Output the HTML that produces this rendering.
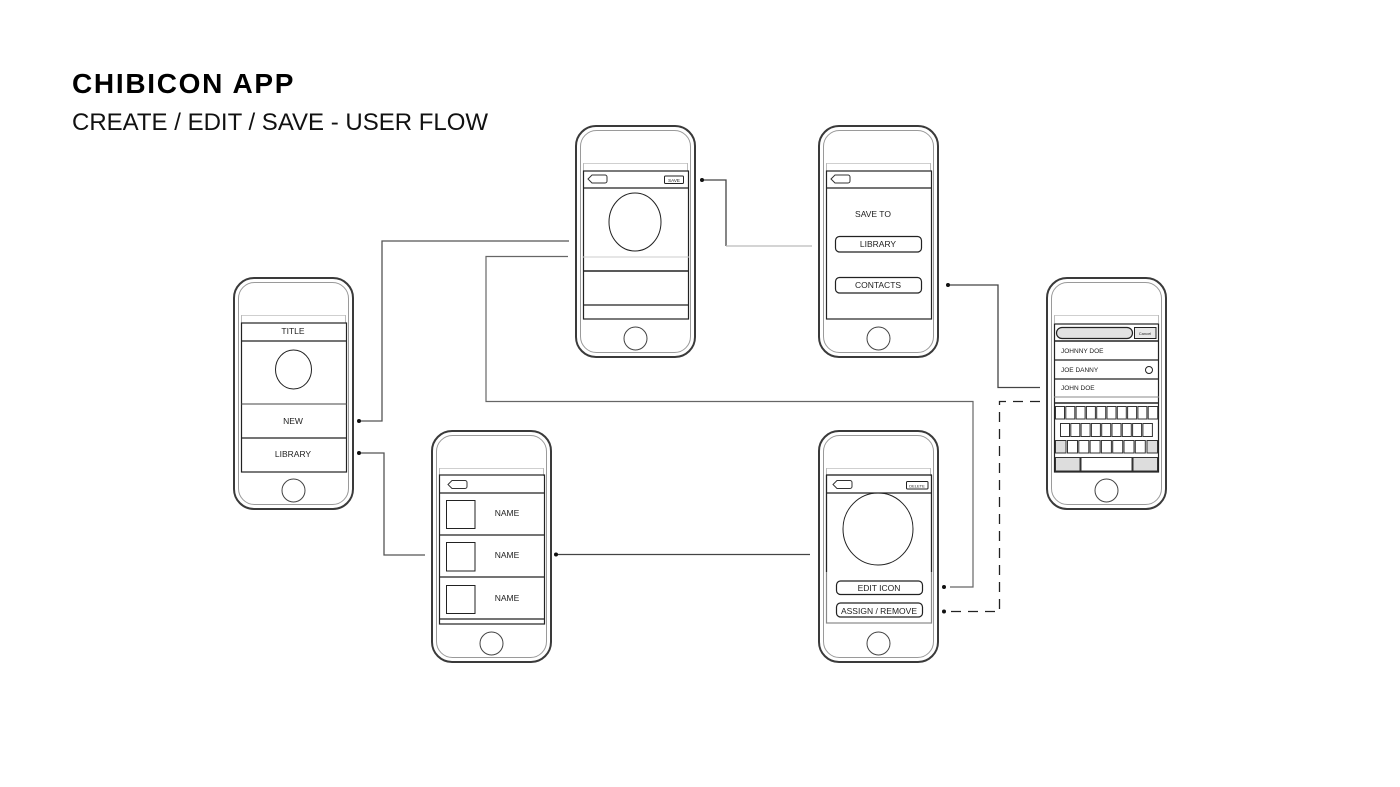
<!DOCTYPE html>
<html>
<head>
<meta charset="utf-8">
<style>
html,body{margin:0;padding:0;background:#fff;}
body{width:1400px;height:787px;overflow:hidden;position:relative;font-family:"Liberation Sans",Arial,sans-serif;}
.t1{position:absolute;left:72px;top:68px;font-size:28px;font-weight:bold;letter-spacing:1.7px;color:#000;line-height:32px;white-space:nowrap;}
.t2{position:absolute;left:72px;top:109px;font-size:24px;color:#111;line-height:28px;white-space:nowrap;}
svg{position:absolute;left:0;top:0;}
svg text{font-family:"Liberation Sans",Arial,sans-serif;fill:#222;}
</style>
</head>
<body>
<div class="t1">CHIBICON APP</div>
<div class="t2">CREATE / EDIT / SAVE - USER FLOW</div>
<svg width="1400" height="787" viewBox="0 0 1400 787" xmlns="http://www.w3.org/2000/svg">
<defs>
<g id="phone">
  <rect x="1" y="1" width="119" height="231" rx="20" ry="20" fill="#fff" stroke="#3a3a3a" stroke-width="2"/>
  <rect x="5.5" y="5.5" width="110" height="222" rx="16" ry="16" fill="none" stroke="#9a9a9a" stroke-width="1"/>
  <line x1="8" y1="38.5" x2="113" y2="38.5" stroke="#cfcfcf" stroke-width="1"/>
  <line x1="8.5" y1="38" x2="8.5" y2="46" stroke="#bbb" stroke-width="1"/>
  <line x1="112.5" y1="38" x2="112.5" y2="46" stroke="#bbb" stroke-width="1"/>
  <circle cx="60.5" cy="213.5" r="11.5" fill="none" stroke="#444" stroke-width="1"/>
</g>
<path id="back" d="M4,0 H17 a2,2 0 0 1 2,2 V6 a2,2 0 0 1 -2,2 H4 L0,4 Z" fill="#fff" stroke="#333" stroke-width="1"/>
</defs>

<!-- connectors -->
<g fill="none" stroke="#555" stroke-width="1.3">
  <polyline points="359,421 382,421 382,241 569,241"/>
  <polyline points="359,453 384,453 384,555 425,555"/>
  <polyline points="568,256.5 486,256.5 486,401.5 973,401.5 973,587 950,587" stroke="#666" stroke-width="1.2"/>
  <polyline points="702,180 726,180 726,246" stroke="#444"/>
  <line x1="726" y1="246" x2="812" y2="246" stroke="#bbb" stroke-width="1.2"/>
  <polyline points="948,285 998,285 998,387.5 1040,387.5" stroke="#444"/>
  <line x1="556" y1="554.5" x2="810" y2="554.5" stroke="#444"/>
  <polyline points="1040,401.5 999.5,401.5 999.5,611.5 944,611.5" stroke="#222" stroke-width="1.3" stroke-dasharray="10,7"/>
</g>
<g fill="#111">
  <circle cx="359" cy="421" r="2"/>
  <circle cx="359" cy="453" r="2"/>
  <circle cx="702" cy="180" r="2"/>
  <circle cx="948" cy="285" r="2"/>
  <circle cx="556" cy="554.5" r="2"/>
  <circle cx="944" cy="587" r="2"/>
  <circle cx="944" cy="611.5" r="2"/>
</g>

<!-- LEFT PHONE -->
<use href="#phone" x="233" y="277"/>
<g stroke="#222" stroke-width="1.2" fill="none">
  <rect x="241.5" y="323" width="105" height="149"/>
  <line x1="241" y1="341" x2="347" y2="341"/>
  <line x1="241" y1="404" x2="347" y2="404" stroke="#444" stroke-width="1"/>
  <line x1="241" y1="438" x2="347" y2="438"/>
  <ellipse cx="293.5" cy="369.5" rx="18" ry="19.5" stroke-width="1"/>
</g>
<text x="293" y="334" font-size="8.5" text-anchor="middle">TITLE</text>
<text x="293" y="424" font-size="8.5" text-anchor="middle">NEW</text>
<text x="293" y="457" font-size="8.5" text-anchor="middle">LIBRARY</text>

<!-- TOP CENTER PHONE -->
<use href="#phone" x="575" y="125"/>
<g stroke="#222" stroke-width="1.2" fill="none">
  <rect x="583.5" y="171" width="105" height="148"/>
  <line x1="583" y1="188" x2="689" y2="188"/>
  <line x1="583" y1="257" x2="689" y2="257" stroke="#ccc" stroke-width="1"/>
  <line x1="583" y1="271" x2="689" y2="271" stroke-width="1.5"/>
  <line x1="583" y1="305" x2="689" y2="305"/>
  <ellipse cx="635" cy="222" rx="26" ry="29" stroke-width="1"/>
  <rect x="664.5" y="176" width="19" height="7.5" rx="1" stroke-width="1"/>
</g>
<use href="#back" x="588" y="175"/>
<text x="674" y="182" font-size="4.5" text-anchor="middle">SAVE</text>

<!-- TOP RIGHT PHONE -->
<use href="#phone" x="818" y="125"/>
<g stroke="#222" stroke-width="1.2" fill="none">
  <rect x="826.5" y="171" width="105" height="148"/>
  <line x1="826" y1="188" x2="932" y2="188"/>
  <rect x="835.5" y="236.5" width="86" height="15.5" rx="4"/>
  <rect x="835.5" y="277.5" width="86" height="15.5" rx="4"/>
</g>
<use href="#back" x="831" y="175"/>
<text x="873" y="217" font-size="8.5" text-anchor="middle">SAVE TO</text>
<text x="878" y="247" font-size="8.5" text-anchor="middle">LIBRARY</text>
<text x="878" y="288" font-size="8.5" text-anchor="middle">CONTACTS</text>

<!-- FAR RIGHT PHONE -->
<use href="#phone" x="1046" y="277"/>
<g stroke="#222" stroke-width="1.2" fill="none">
  <rect x="1054.5" y="324" width="104" height="148"/>
  <line x1="1054" y1="341" x2="1159" y2="341" stroke-width="1.5"/>
  <line x1="1054" y1="360" x2="1159" y2="360"/>
  <line x1="1054" y1="379" x2="1159" y2="379"/>
  <line x1="1054" y1="397" x2="1159" y2="397" stroke="#888" stroke-width="1"/>
  <line x1="1054" y1="403" x2="1159" y2="403" stroke-width="1.5"/>
  <rect x="1056.5" y="327.5" width="76" height="11" rx="5.5" fill="#e2e2e2"/>
  <rect x="1134.5" y="327.5" width="21.5" height="11" fill="#e8e8e8" stroke-width="1"/>
  <circle cx="1149" cy="370" r="3.5" stroke-width="1"/>
</g>
<text x="1145" y="335" font-size="4" text-anchor="middle">Cancel</text>
<text x="1061" y="353" font-size="6.5">JOHNNY DOE</text>
<text x="1061" y="372" font-size="6.5">JOE DANNY</text>
<text x="1061" y="390" font-size="6.5">JOHN DOE</text>
<g stroke="#333" stroke-width="1" fill="#fff">
  <rect x="1055.5" y="406.5" width="9" height="12.5"/>
  <rect x="1065.8" y="406.5" width="9" height="12.5"/>
  <rect x="1076.1" y="406.5" width="9" height="12.5"/>
  <rect x="1086.4" y="406.5" width="9" height="12.5"/>
  <rect x="1096.7" y="406.5" width="9" height="12.5"/>
  <rect x="1107" y="406.5" width="9" height="12.5"/>
  <rect x="1117.3" y="406.5" width="9" height="12.5"/>
  <rect x="1127.6" y="406.5" width="9" height="12.5"/>
  <rect x="1137.9" y="406.5" width="9" height="12.5"/>
  <rect x="1148.2" y="406.5" width="9.5" height="12.5"/>

  <rect x="1060.5" y="423.5" width="9" height="13"/>
  <rect x="1070.8" y="423.5" width="9" height="13"/>
  <rect x="1081.1" y="423.5" width="9" height="13"/>
  <rect x="1091.4" y="423.5" width="9" height="13"/>
  <rect x="1101.7" y="423.5" width="9" height="13"/>
  <rect x="1112" y="423.5" width="9" height="13"/>
  <rect x="1122.3" y="423.5" width="9" height="13"/>
  <rect x="1132.6" y="423.5" width="9" height="13"/>
  <rect x="1142.9" y="423.5" width="9.5" height="13"/>

  <rect x="1055.5" y="440.5" width="10.5" height="12.5" fill="#ddd"/>
  <rect x="1067.5" y="440.5" width="10" height="12.5"/>
  <rect x="1078.8" y="440.5" width="10" height="12.5"/>
  <rect x="1090.1" y="440.5" width="10" height="12.5"/>
  <rect x="1101.4" y="440.5" width="10" height="12.5"/>
  <rect x="1112.7" y="440.5" width="10" height="12.5"/>
  <rect x="1124" y="440.5" width="10" height="12.5"/>
  <rect x="1135.3" y="440.5" width="10" height="12.5"/>
  <rect x="1147" y="440.5" width="10.5" height="12.5" fill="#ddd"/>

  <rect x="1055.5" y="457.5" width="24.5" height="13.5" fill="#ddd"/>
  <rect x="1081" y="457.5" width="51" height="13.5"/>
  <rect x="1133" y="457.5" width="24.5" height="13.5" fill="#ddd"/>
</g>

<!-- BOTTOM LEFT PHONE -->
<use href="#phone" x="431" y="430"/>
<g stroke="#222" stroke-width="1.2" fill="none">
  <rect x="439.5" y="475" width="105" height="149"/>
  <line x1="439" y1="493" x2="545" y2="493"/>
  <line x1="439" y1="535" x2="545" y2="535"/>
  <line x1="439" y1="577" x2="545" y2="577"/>
  <line x1="439" y1="619" x2="545" y2="619"/>
  <rect x="446.5" y="500.5" width="28.5" height="28" stroke-width="1"/>
  <rect x="446.5" y="542.5" width="28.5" height="28.5" stroke-width="1"/>
  <rect x="446.5" y="585.5" width="28.5" height="28" stroke-width="1"/>
</g>
<use href="#back" x="448" y="480.5"/>
<text x="507" y="516" font-size="8.5" text-anchor="middle">NAME</text>
<text x="507" y="558" font-size="8.5" text-anchor="middle">NAME</text>
<text x="507" y="601" font-size="8.5" text-anchor="middle">NAME</text>

<!-- BOTTOM RIGHT PHONE -->
<use href="#phone" x="818" y="430"/>
<g stroke="#222" stroke-width="1.2" fill="none">
  <rect x="826.5" y="475" width="105" height="148" stroke="#888"/>
  <line x1="826.5" y1="475" x2="826.5" y2="572"/>
  <line x1="931.5" y1="475" x2="931.5" y2="572"/>
  <line x1="826" y1="475" x2="932" y2="475"/>
  <line x1="826" y1="493" x2="932" y2="493"/>
  <ellipse cx="878" cy="529" rx="35" ry="36" stroke-width="1"/>
  <rect x="906.5" y="481.5" width="21.5" height="7.5" rx="1" stroke-width="1"/>
  <rect x="836.5" y="581" width="86" height="13.5" rx="4"/>
  <rect x="836.5" y="603" width="86" height="14" rx="4"/>
</g>
<use href="#back" x="833" y="480.5"/>
<text x="917" y="487.5" font-size="4" text-anchor="middle">DELETE</text>
<text x="879" y="591" font-size="8.5" text-anchor="middle">EDIT ICON</text>
<text x="879" y="614" font-size="8.5" text-anchor="middle">ASSIGN / REMOVE</text>
</svg>
</body>
</html>
